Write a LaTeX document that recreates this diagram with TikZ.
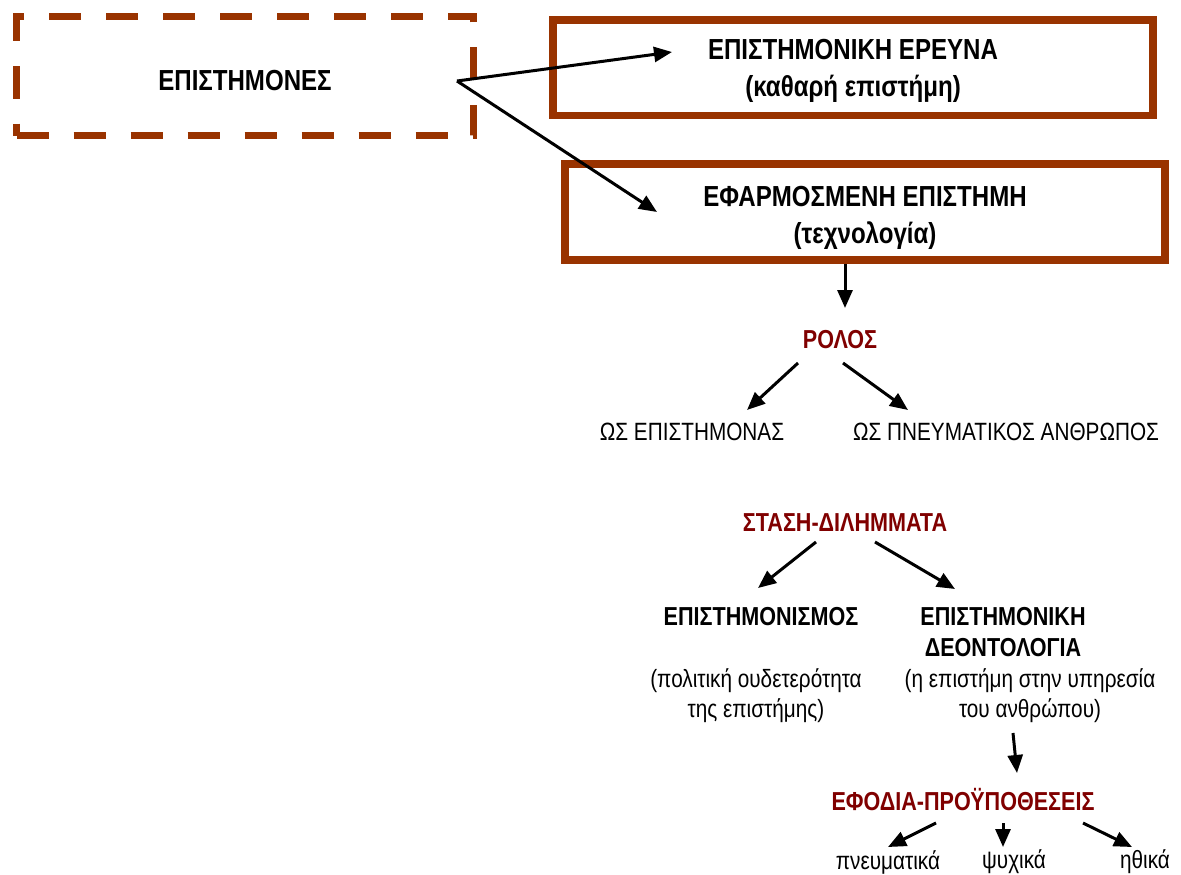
\documentclass[tikz,border=0pt]{standalone}
\usepackage{fontspec}
\setmainfont[FakeStretch=0.83]{Liberation Sans}
\usetikzlibrary{arrows.meta}
\definecolor{boxbrown}{RGB}{153,51,0}
\definecolor{darkred}{RGB}{128,0,0}

\begin{document}
\begin{tikzpicture}[x=1pt,y=-1pt,>={Triangle[length=18pt,width=15pt]},line join=miter,
	arr/.style={->,line width=3pt},
	frame/.style={draw=boxbrown,line width=7.5pt,minimum width=600pt},
	big/.style={font=\fontsize{29}{37}\selectfont\bfseries,align=center},
	head/.style={font=\fontsize{26}{30}\selectfont\bfseries,text=darkred,inner sep=0pt},
	bold/.style={font=\fontsize{26}{31}\selectfont\bfseries,align=center,inner sep=0pt},
	plain/.style={font=\fontsize{25}{30}\selectfont,align=center,inner sep=0pt}]
	\useasboundingbox (0,0) rectangle (1181,875);
	% top row
	\node[big,draw=boxbrown,line width=7pt,dash pattern=on 32pt off 25pt,minimum width=457pt,minimum height=119pt,text height=30pt,text depth=0pt] (sci) at (245,76) {ΕΠΙΣΤΗΜΟΝΕΣ};
	\node[big,frame,minimum height=95.5pt] (research) at (853,67.75) {\rule{0pt}{27pt}ΕΠΙΣΤΗΜΟΝΙΚΗ ΕΡΕΥΝΑ\\(καθαρή επιστήμη)};
	\node[big,frame,minimum height=96pt] (applied) at (865,212) {\rule{0pt}{32pt}ΕΦΑΡΜΟΣΜΕΝΗ ΕΠΙΣΤΗΜΗ\\(τεχνολογία)};
	\coordinate (src) at ([shift={(212,5)}]sci.center);
	\draw[arr] (src)--([shift={(-181,-15.75)}]research.center);
	\draw[arr] (src)--([shift={(-208,0)}]applied.center);
	% role
	\node[head] (rolos) at (840,340) {ΡΟΛΟΣ};
	\node[plain] (asSci) at (692,432) {ΩΣ ΕΠΙΣΤΗΜΟΝΑΣ};
	\node[plain] (asSpirit) at (1006,432) {ΩΣ ΠΝΕΥΜΑΤΙΚΟΣ ΑΝΘΡΩΠΟΣ};
	\draw[arr] ([shift={(-20,52)}]applied.center)--([shift={(5,-32)}]rolos.center);
	\draw[arr] ([shift={(-42,23)}]rolos.center)--([shift={(55,-22)}]asSci.center);
	\draw[arr] ([shift={(3,23)}]rolos.center)--([shift={(-98,-22)}]asSpirit.center);
	% attitude
	\node[head] (stasi) at (845,523) {ΣΤΑΣΗ-ΔΙΛΗΜΜΑΤΑ};
	\node[bold] (scientism) at (761,617) {ΕΠΙΣΤΗΜΟΝΙΣΜΟΣ};
	\node[bold] (deont) at (1003,632) {ΕΠΙΣΤΗΜΟΝΙΚΗ\\ΔΕΟΝΤΟΛΟΓΙΑ};
	\node[plain] (neutr) at (756,696) {(πολιτική ουδετερότητα\\της επιστήμης)};
	\node[plain] (service) at (1030,696) {(η επιστήμη στην υπηρεσία\\του ανθρώπου)};
	\draw[arr] ([shift={(-29,19)}]stasi.center)--([shift={(-3,-29)}]scientism.center);
	\draw[arr] ([shift={(30,19)}]stasi.center)--([shift={(-48,-43)}]deont.center);
	% means
	\node[head] (efodia) at (963,800) {ΕΦΟΔΙΑ-ΠΡΟΫΠΟΘΕΣΕΙΣ};
	\draw[arr] ([shift={(-17,37)}]service.center)--([shift={(54,-27)}]efodia.center);
	\node[plain] (pneum) at (888,862) {πνευματικά};
	\node[plain] (psych) at (1014,862) {ψυχικά};
	\node[plain] (ith) at (1145,862) {ηθικά};
	\foreach \s/\t/\x in {-27/pneum/0,40/psych/-11,120/ith/-13}
	\draw[arr] ([shift={(\s,23)}]efodia.center)--([shift={(\x,-15)}]\t.center);
\end{tikzpicture}
\end{document}
